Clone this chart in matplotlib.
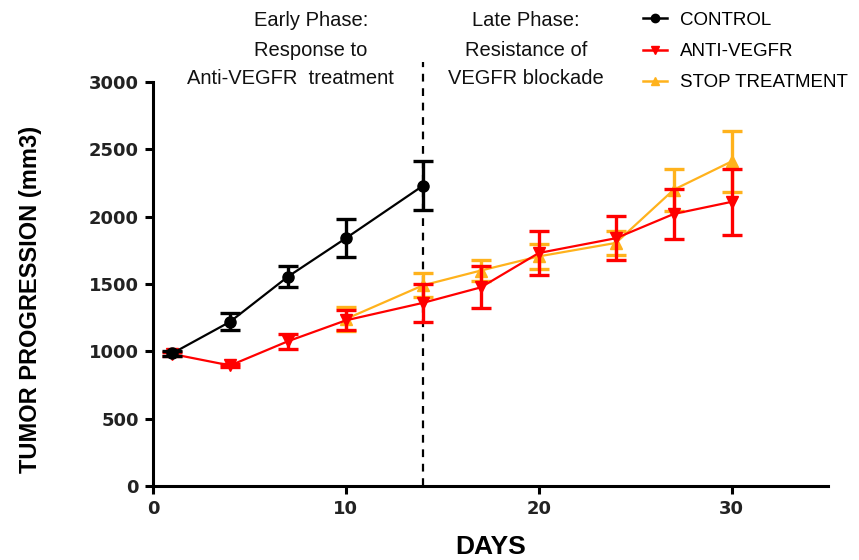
import matplotlib
matplotlib.use("Agg")
import matplotlib.pyplot as plt
from matplotlib.lines import Line2D

days_control = [1, 4, 7, 10, 14]
control = [985, 1220, 1555, 1840, 2230]
control_err = [20, 65, 80, 140, 180]

days_anti = [1, 4, 7, 10, 14, 17, 20, 24, 27, 30]
anti = [980, 895, 1075, 1230, 1360, 1475, 1730, 1840, 2020, 2110]
anti_err = [15, 10, 55, 75, 140, 155, 165, 165, 185, 245]

days_stop = [10, 14, 17, 20, 24, 27, 30]
stop = [1240, 1490, 1600, 1705, 1805, 2200, 2410]
stop_err = [90, 90, 80, 90, 90, 155, 225]

x_ticks = [0, 10, 20, 30]
y_ticks = [0, 500, 1000, 1500, 2000, 2500, 3000]

text_font = "Liberation Sans"

fig = plt.figure(figsize=(8.59, 5.60), dpi=100)
ax = fig.add_axes([153/859, 1-486/560, (828-153)/859, (486-82)/560])

c_black = "#000000"
c_red = "#FF0000"
c_orange = "#FFB21C"

common = dict(lw=1.6, elinewidth=2.4, capsize=7, capthick=2.4)
ax.errorbar(days_stop, stop, yerr=stop_err, color=c_orange, marker="^", ms=8, zorder=3, **common)
ax.errorbar(days_anti, anti, yerr=anti_err, color=c_red, marker="v", ms=8, zorder=4, **common)
ax.errorbar(days_control, control, yerr=control_err, color=c_black, marker="o", ms=8, zorder=5, **common)

ax.plot([14, 14], [0, 3150], ls=(0, (3.5, 3)), color="black", lw=1.6, clip_on=False, zorder=2)

ax.set_xlim(0, 35)
ax.set_ylim(0, 3000)
ax.set_xticks(x_ticks)
ax.set_yticks(y_ticks)
for s in ["top", "right"]:
    ax.spines[s].set_visible(False)
for s in ["left", "bottom"]:
    ax.spines[s].set_linewidth(2.2)
ax.tick_params(width=2.2, length=6, labelsize=13, pad=4)
for lab in ax.get_xticklabels() + ax.get_yticklabels():
    lab.set_fontweight("bold")
    lab.set_color("#222222")

ax.set_ylabel("TUMOR PROGRESSION (mm3)", fontsize=17, fontweight="bold", family=text_font)
ax.yaxis.set_label_coords(-0.164, 0.463)
ax.set_xlabel("DAYS", fontsize=19, fontweight="bold", family=text_font, labelpad=12)

handles = [
    Line2D([], [], color=c_black, marker="o", ms=6, lw=1.8),
    Line2D([], [], color=c_red, marker="v", ms=6, lw=1.8),
    Line2D([], [], color=c_orange, marker="^", ms=6, lw=1.8),
]
labels = ["CONTROL", "ANTI-VEGFR", "STOP TREATMENT"]
fig.legend(handles, labels, loc="upper left", bbox_to_anchor=(626/859, 1.0+5/560),
           frameon=False, prop={"family": text_font, "size": 13.5}, handlelength=1.3,
           labelspacing=0.75, handletextpad=0.7, borderpad=0.4)

tk = dict(ha="center", va="center", fontsize=14.5, family=text_font, color="#111111")
fig.text(311/859, 1-20/560, "Early Phase:", **tk)
fig.text(311/859, 1-50/560, "Response to", **tk)
fig.text(290/859, 1-78/560, "Anti-VEGFR  treatment", **tk)
fig.text(526/859, 1-20/560, "Late Phase:", **tk)
fig.text(526/859, 1-50/560, "Resistance of", **tk)
fig.text(526/859, 1-78/560, "VEGFR blockade", **tk)

fig.savefig("out.png", dpi=100)
